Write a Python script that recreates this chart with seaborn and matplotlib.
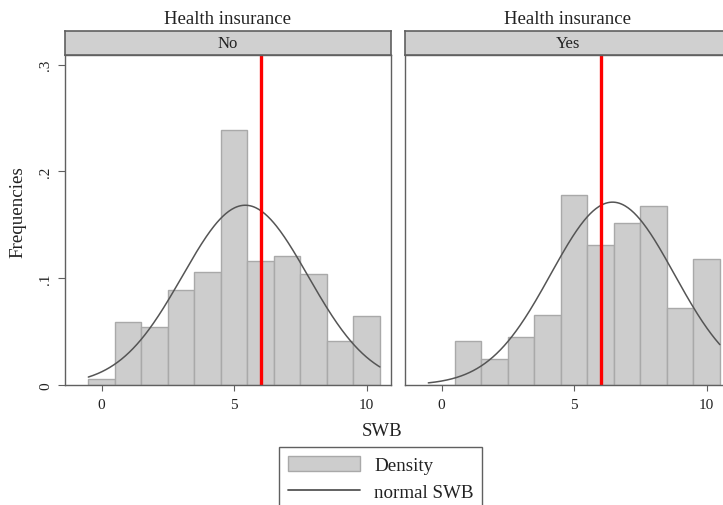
import numpy as np
import pandas as pd
import matplotlib
matplotlib.use('Agg')
import matplotlib.pyplot as plt
import seaborn as sns
from matplotlib.patches import Patch
from matplotlib.lines import Line2D

# SWB histogram (density per integer score) by health insurance
swb_scores = [0, 1, 2, 3, 4, 5, 6, 7, 8, 9, 10]
freq_no = [0.006, 0.059, 0.054, 0.089, 0.106, 0.239, 0.116, 0.121, 0.104, 0.041, 0.065]
freq_yes = [0.0, 0.041, 0.024, 0.045, 0.066, 0.178, 0.131, 0.152, 0.168, 0.072, 0.118]
# normal curve parameters (mean, sd)
mean_no, sd_no = 5.42, 2.37
mean_yes, sd_yes = 6.45, 2.33
swb_line = 6
panel_labels = ['No', 'Yes']
y_ticks = [0, 0.1, 0.2, 0.3]
y_ticklabels = ['0', '.1', '.2', '.3']
x_ticks = [0, 5, 10]

sns.set_style('white')
plt.rcParams['font.family'] = ['Liberation Serif', 'DejaVu Serif']

W, H = 723, 506
bar_fill = '#cdcdcd'
bar_edge = '#a9a9a9'
frame_col = '#606060'
curve_col = '#555555'


def box(x0, y0, x1, y1):
    return [x0 / W, 1 - y1 / H, (x1 - x0) / W, (y1 - y0) / H]


fig = plt.figure(figsize=(W / 100, H / 100), dpi=100)

panels = [(freq_no, mean_no, sd_no), (freq_yes, mean_yes, sd_yes)]
lefts = [65, 405]

for i, (freq, mu, sd) in enumerate(panels):
    x0 = lefts[i]
    ax = fig.add_axes(box(x0, 56, x0 + 326, 386))
    strip = fig.add_axes(box(x0, 32, x0 + 326, 56))

    df = pd.DataFrame({'swb': swb_scores, 'freq': freq})
    sns.histplot(data=df, x='swb', weights='freq', discrete=True, shrink=1,
                 color=bar_fill, edgecolor=bar_edge, linewidth=1, alpha=1, ax=ax)

    xs = np.linspace(min(swb_scores) - 0.5, max(swb_scores) + 0.5, 300)
    pdf = np.exp(-0.5 * ((xs - mu) / sd) ** 2) / (sd * np.sqrt(2 * np.pi))
    sns.lineplot(x=xs, y=pdf, color=curve_col, linewidth=1.1, ax=ax)

    ax.axvline(swb_line, color='red', linewidth=2.4)

    ax.set_xlim(-1.38, 10.92)
    ax.set_ylim(0, 0.309)
    ax.set_xlabel('')
    ax.set_ylabel('')
    ax.set_xticks(x_ticks)
    ax.set_xticklabels([str(t) for t in x_ticks], fontsize=11, color='#222222')
    ax.tick_params(axis='x', direction='out', length=4.5, width=0.8, color=frame_col, pad=5, bottom=True)
    if i == 0:
        ax.set_yticks(y_ticks)
        ax.set_yticklabels(y_ticklabels, fontsize=11, rotation=90, va='center', color='#222222')
        ax.tick_params(axis='y', direction='out', length=5, width=0.8, color=frame_col, pad=4, left=True)
    else:
        ax.set_yticks([])
    for s in ax.spines.values():
        s.set_visible(True)
        s.set_color(frame_col)
        s.set_linewidth(1)

    strip.set_facecolor('#d0d0d0')
    strip.set_xticks([])
    strip.set_yticks([])
    for s in strip.spines.values():
        s.set_visible(True)
        s.set_color(frame_col)
        s.set_linewidth(1.2)
    strip.text(0.5, 0.5, panel_labels[i], ha='center', va='center',
               fontsize=12, transform=strip.transAxes, color='#222222')

    fig.text((x0 + 163) / W, 1 - 20 / H, 'Health insurance', ha='center', va='center',
             fontsize=13.5, color='#222222')

fig.text(18 / W, 1 - 212 / H, 'Frequencies', rotation=90, ha='center', va='center',
         fontsize=13.7, color='#222222')
fig.text(382 / W, 1 - 432 / H, 'SWB', ha='center', va='center', fontsize=13.5, color='#222222')

handles = [Patch(facecolor=bar_fill, edgecolor=bar_edge, linewidth=1),
           Line2D([], [], color=curve_col, linewidth=1.3)]
leg = fig.legend(handles, ['Density', 'normal SWB'], loc='upper left',
                 bbox_to_anchor=(279 / W, 1 - 448 / H), frameon=True, fancybox=False,
                 fontsize=13.7, handlelength=3.8, handleheight=0.9, handletextpad=0.75,
                 borderpad=0.45, labelspacing=0.45, borderaxespad=0)
leg.get_frame().set_edgecolor(frame_col)
leg.get_frame().set_linewidth(1)
leg.get_frame().set_alpha(1)
for t in leg.get_texts():
    t.set_color('#222222')

fig.savefig('out.png', dpi=100)
